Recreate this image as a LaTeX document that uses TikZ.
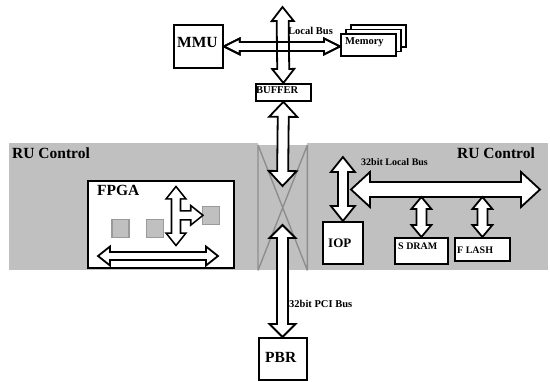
\documentclass[tikz,border=0pt]{standalone}
\usepackage{fontspec}
\setmainfont{Liberation Serif}
\usetikzlibrary{calc}
\definecolor{ctlgray}{HTML}{C0C0C0}
\definecolor{xgray}{HTML}{8E8E8E}
\definecolor{chipedge}{HTML}{9A9A9A}

% outline of a double-headed block arrow from #1 to #2
% #3 shaft half width, #4 head half width, #5 head length
\newcommand\dblpath[5]{%
  (#1)
  -- ($($(#1)!#5!(#2)$)!#4!90:(#2)$)
  -- ($($(#1)!#5!(#2)$)!#3!90:(#2)$)
  -- ($($(#2)!#5!(#1)$)!#3!90:(#2)$)
  -- ($($(#2)!#5!(#1)$)!#4!90:(#2)$)
  -- (#2)
  -- ($($(#2)!#5!(#1)$)!#4!-90:(#2)$)
  -- ($($(#2)!#5!(#1)$)!#3!-90:(#2)$)
  -- ($($(#1)!#5!(#2)$)!#3!-90:(#2)$)
  -- ($($(#1)!#5!(#2)$)!#4!-90:(#2)$)
  -- cycle}
% outline of a single-headed block arrow, head at #2
\newcommand\sglpath[5]{%
  ($(#1)!#3!90:(#2)$)
  -- ($($(#2)!#5!(#1)$)!#3!90:(#2)$)
  -- ($($(#2)!#5!(#1)$)!#4!90:(#2)$)
  -- (#2)
  -- ($($(#2)!#5!(#1)$)!#4!-90:(#2)$)
  -- ($($(#2)!#5!(#1)$)!#3!-90:(#2)$)
  -- ($(#1)!#3!-90:(#2)$)
  -- cycle}
\newcommand\blockarrow[5]{\draw[hollow] \dblpath{#1}{#2}{#3}{#4}{#5};}

\tikzset{
  box/.style={draw, line width=1.8pt, fill=white, inner sep=0pt, anchor=north west},
  region/.style={fill=ctlgray, draw=none, inner sep=0pt, anchor=north west},
  chip/.style={draw=chipedge, fill=ctlgray, line width=1.6pt, inner sep=0pt,
    minimum width=17pt, minimum height=18pt, anchor=north west},
  hollow/.style={draw=black, fill=white, line width=1.8pt, line join=miter},
  xline/.style={draw=xgray, line width=1.4pt},
  bigtxt/.style={font=\bfseries\fontsize{15.5}{16}\selectfont, inner sep=0pt, anchor=base west},
  midtxt/.style={font=\bfseries\fontsize{13}{14}\selectfont, inner sep=0pt, anchor=base west},
  smalltxt/.style={font=\bfseries\fontsize{10.5}{11}\selectfont, inner sep=0pt, anchor=base west},
  tinytxt/.style={font=\bfseries\fontsize{10}{11}\selectfont, inner sep=0pt, anchor=base west}
}

\begin{document}
\begin{tikzpicture}[x=1pt,y=-1pt]
\useasboundingbox (0,0) rectangle (550,381);

% grey control regions and the crossed gap between them
\node[region, minimum width=249pt, minimum height=127pt] (ruleft) at (9,143) {};
\node[region, minimum width=241pt, minimum height=127pt] (ruright) at (307,143) {};
\node[region, minimum width=49pt, minimum height=125pt] (gap) at (258,145) {};
\draw[xline] (gap.north west) -- (gap.south west)
             (gap.north east) -- (gap.south east)
             (gap.north west) -- (gap.south east)
             (gap.north east) -- (gap.south west);
\node[bigtxt] (rulbl) at (12,158) {RU Control};
\node[bigtxt] (rurlbl) at (457,158) {RU Control};

% local bus area
\node[box, minimum width=49pt, minimum height=43pt] (mmu) at (173,24) {};
\node[bigtxt] at (177,47) {MMU};
\node[box, minimum width=55pt, minimum height=22pt] (mem3) at (350,24) {};
\node[box, minimum width=55pt, minimum height=22pt] (mem2) at (345,28.5) {};
\node[box, minimum width=55pt, minimum height=22pt] (mem1) at (340,33) {};
\node[smalltxt] at (345,44) {Memory};
\node[box, minimum width=55pt, minimum height=17pt] (buf) at (255,83) {};
\node[smalltxt] at (256,93) {BUFFER};
\node[smalltxt] at (288,34) {Local Bus};

\coordinate (lbtop) at (282.5,7);
\coordinate (memin) at ($(mmu.east)!1!(mmu.east -| mem1.west)$);
\blockarrow{mmu.east}{memin}{4.5pt}{8pt}{16pt}
\blockarrow{lbtop}{buf.north}{6pt}{11pt}{14pt}
\draw[draw=black, line width=1.8pt, line join=miter] \dblpath{mmu.east}{memin}{4.5pt}{8pt}{16pt};

% FPGA
\node[box, minimum width=146pt, minimum height=87pt] (fpga) at (87,180) {};
\node[bigtxt] at (97,195) {FPGA};
\node[chip] (chip1) at (111,218.5) {};
\node[chip] (chip2) at (145.5,218.5) {};
\node[chip] (chip3) at (201.5,205.5) {};
\coordinate (fbusl) at (98,256);
\coordinate (fbusr) at (218,256);
\blockarrow{fbusl}{fbusr}{4pt}{9.5pt}{12pt}
\coordinate (fvt) at (176,188);
\coordinate (fvb) at (176,244);
\coordinate (fbr) at (fvt |- chip3.west);
% merged T-shaped arrow: thick outline first, then white body
\draw[line width=3.4pt, line join=miter]
  \dblpath{fvt}{fvb}{3.6pt}{8pt}{10pt}
  \sglpath{fbr}{chip3.west}{3.6pt}{8pt}{10pt};
\fill[white]
  \dblpath{fvt}{fvb}{3.6pt}{8pt}{10pt}
  \sglpath{fbr}{chip3.west}{3.6pt}{8pt}{10pt};

% right-hand control side
\node[box, minimum width=40pt, minimum height=42pt] (iop) at (322,221) {};
\node[midtxt] at (328,247) {IOP};
\node[box, minimum width=53pt, minimum height=26pt] (sdram) at (394,237) {};
\node[tinytxt] at (398,249) {S DRAM};
\node[box, minimum width=55pt, minimum height=23pt] (flash) at (454,237) {};
\node[tinytxt] at (457,253) {F LASH};
\node[tinytxt] at (361,165) {32bit Local Bus};

\coordinate (busl) at (351,189.5);
\coordinate (busr) at (540,189.5);
\blockarrow{busl}{busr}{7.5pt}{17.5pt}{19pt}
\coordinate (ioptop) at (iop.north |- 0,157);
\blockarrow{ioptop}{iop.north}{5pt}{12pt}{15pt}
\coordinate (sdtop) at (sdram.north |- 0,197);
\blockarrow{sdtop}{sdram.north}{5pt}{10pt}{12pt}
\coordinate (fltop) at (flash.north |- 0,197);
\blockarrow{fltop}{flash.north}{5pt}{10pt}{12pt}

% PCI path through the gap
\node[box, minimum width=48pt, minimum height=42pt] (pbr) at (258,337) {};
\node[bigtxt] at (265,362) {PBR};
\node[smalltxt] at (289,307) {32bit PCI Bus};
\coordinate (gapdown) at (282.5,186);
\coordinate (gapup) at (282.5,225);
\blockarrow{buf.south}{gapdown}{5.5pt}{14pt}{15pt}
\blockarrow{gapup}{gapup |- pbr.north}{5.5pt}{13pt}{13pt}
\end{tikzpicture}
\end{document}
